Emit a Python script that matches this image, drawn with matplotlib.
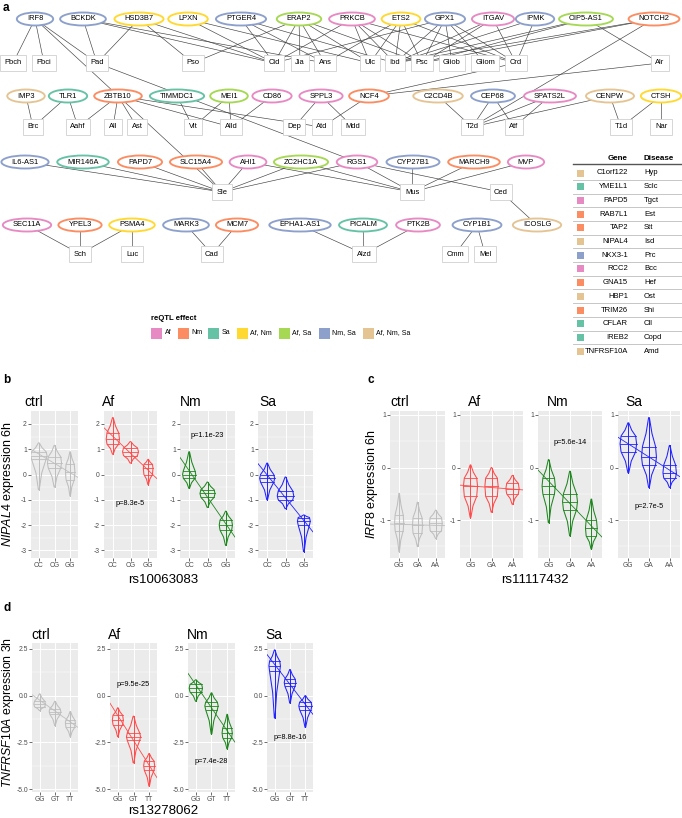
import matplotlib.pyplot as plt
from matplotlib.patches import Ellipse, Rectangle, Polygon

plt.rcParams['font.family'] = ['Liberation Sans', 'DejaVu Sans']
plt.rcParams['axes.unicode_minus'] = False
plt.rcParams['mathtext.fontset'] = 'custom'
plt.rcParams['mathtext.it'] = 'Liberation Sans:italic'
plt.rcParams['mathtext.rm'] = 'Liberation Sans'

W, H = 682, 818

# ---------------- data: network ----------------
effect_names = ['Af', 'Nm', 'Sa', 'Af, Nm', 'Af, Sa', 'Nm, Sa', 'Af, Nm, Sa']
effect_colors = ['#E78AC3', '#FC8D62', '#66C2A5', '#FFD92F', '#A6D854', '#8DA0CB', '#E5C494']

genes_row1 = ['IRF8', 'BCKDK', 'HSD3B7', 'LPXN', 'PTGER4', 'ERAP2', 'PRKCB', 'ETS2', 'GPX1',
              'ITGAV', 'IPMK', 'OIP5-AS1', 'NOTCH2']
effects_row1 = ['Nm, Sa', 'Nm, Sa', 'Af, Nm', 'Af, Nm', 'Nm, Sa', 'Af, Sa', 'Af', 'Af, Nm', 'Nm, Sa',
                'Af', 'Nm, Sa', 'Af, Sa', 'Nm']
genes_row2 = ['IMP3', 'TLR1', 'ZBTB10', 'TIMMDC1', 'MEI1', 'CD86', 'SPPL3', 'NCF4', 'C2CD4B',
              'CEP68', 'SPATS2L', 'CENPW', 'CTSH']
effects_row2 = ['Af, Nm, Sa', 'Sa', 'Nm', 'Sa', 'Af, Sa', 'Af', 'Af', 'Nm', 'Af, Nm, Sa',
                'Nm, Sa', 'Af', 'Af, Nm, Sa', 'Af, Nm']
genes_row3 = ['IL6-AS1', 'MIR146A', 'PAPD7', 'SLC15A4', 'AHI1', 'ZC2HC1A', 'RGS1', 'CYP27B1',
              'MARCH9', 'MVP']
effects_row3 = ['Nm, Sa', 'Sa', 'Nm', 'Nm', 'Af', 'Af, Sa', 'Af', 'Nm, Sa', 'Nm', 'Af']
genes_row4 = ['SEC11A', 'YPEL3', 'PSMA4', 'MARK3', 'MCM7', 'EPHA1-AS1', 'PICALM', 'PTK2B',
              'CYP1B1', 'ICOSLG']
effects_row4 = ['Af', 'Nm', 'Af, Nm', 'Nm, Sa', 'Nm', 'Nm, Sa', 'Sa', 'Af', 'Nm, Sa', 'Af, Nm, Sa']

dis_row1 = ['Pbch', 'Pbci', 'Pad', 'Pso', 'Cid', 'Jia', 'Ans', 'Ulc', 'Ibd', 'Psc', 'Gliob',
            'Gliom', 'Crd', 'Alr']
dis_row2 = ['Brc', 'Aahf', 'All', 'Ast', 'Vit', 'Alld', 'Dep', 'Atd', 'Mdd', 'T2d', 'Atf', 'T1d', 'Nar']
dis_row3 = ['Sle', 'Mus', 'Ced']
dis_row4 = ['Sch', 'Luc', 'Cad', 'Alzd', 'Cmm', 'Mel']

links = {
    'IRF8': ['Pbch', 'Pbci', 'Pad', 'Sle'],
    'BCKDK': ['Pad', 'Cid', 'Ans'],
    'HSD3B7': ['Pad', 'Pso', 'Cid'],
    'LPXN': ['Cid', 'Ulc'],
    'PTGER4': ['Cid', 'Ibd', 'Ans'],
    'ERAP2': ['Pso', 'Cid', 'Jia', 'Ans', 'Ulc', 'Psc'],
    'PRKCB': ['Cid', 'Ulc', 'Ibd', 'Psc', 'Crd'],
    'ETS2': ['Ans', 'Ulc', 'Ibd', 'Psc', 'Crd'],
    'GPX1': ['Cid', 'Ibd', 'Psc', 'Gliob', 'Gliom', 'Crd'],
    'ITGAV': ['Ibd', 'Psc', 'Crd'],
    'IPMK': ['Ibd', 'Crd'],
    'OIP5-AS1': ['Ibd', 'Psc', 'Alr'],
    'NOTCH2': ['Ibd', 'Psc', 'T2d'],
    'IMP3': ['Brc'],
    'TLR1': ['Brc', 'Aahf'],
    'ZBTB10': ['Aahf', 'All', 'Ast', 'Alld', 'Atd'],
    'TIMMDC1': ['Vit'],
    'MEI1': ['Vit', 'Alld'],
    'CD86': ['Alld'],
    'SPPL3': ['Dep', 'Mdd'],
    'NCF4': ['Atd', 'Crd', 'Alr'],
    'C2CD4B': ['T2d'],
    'CEP68': ['T2d', 'Atf'],
    'SPATS2L': ['T2d', 'Atf'],
    'CENPW': ['T2d', 'T1d'],
    'CTSH': ['T1d', 'Nar'],
    'IL6-AS1': ['Sle'],
    'MIR146A': ['Sle'],
    'PAPD7': ['Sle'],
    'SLC15A4': ['Sle'],
    'AHI1': ['Sle', 'Mus'],
    'ZC2HC1A': ['Sle', 'Mus'],
    'RGS1': ['Pad', 'Sle', 'Mus', 'Ced'],
    'CYP27B1': ['Mus'],
    'MARCH9': ['Mus'],
    'MVP': ['Mus'],
    'SEC11A': ['Sch'],
    'YPEL3': ['Sch'],
    'PSMA4': ['Sch', 'Luc'],
    'MARK3': ['Cad'],
    'MCM7': ['Cad'],
    'EPHA1-AS1': ['Alzd'],
    'PICALM': ['Alzd'],
    'PTK2B': ['Alzd'],
    'CYP1B1': ['Cmm', 'Mel'],
    'ICOSLG': ['Ced'],
}

table_genes = ['C1orf122', 'YME1L1', 'PAPD5', 'RAB7L1', 'TAP2', 'NIPAL4', 'NKX3-1', 'RCC2',
               'GNA15', 'HBP1', 'TRIM26', 'CFLAR', 'IREB2', 'TNFRSF10A']
table_dis = ['Hyp', 'Sclc', 'Tgct', 'Est', 'Stt', 'Isd', 'Prc', 'Bcc', 'Hef', 'Ost', 'Shi',
             'Cll', 'Copd', 'Amd']
table_eff = ['Af, Nm, Sa', 'Sa', 'Af', 'Nm', 'Nm', 'Af, Nm, Sa', 'Nm, Sa', 'Af', 'Nm',
             'Af, Nm, Sa', 'Nm', 'Sa', 'Sa', 'Af, Nm, Sa']

# ---------------- data: violins (lo, q1, median, q3, hi) ----------------
conditions = ['ctrl', 'Af', 'Nm', 'Sa']
cond_colors = ['#BEBEBE', '#FF4A4A', '#1E861E', '#2222FF']

nipal4_geno = ['CC', 'CG', 'GG']
nipal4_stats = {
    'ctrl': [[-0.6, 0.6, 0.75, 0.9, 1.25], [-0.5, 0.25, 0.45, 0.7, 1.15], [-0.85, -0.2, 0.1, 0.4, 0.9]],
    'Af': [[0.8, 1.2, 1.4, 1.65, 2.25], [0.45, 0.75, 0.9, 1.05, 1.3], [-0.4, 0.0, 0.25, 0.4, 0.6]],
    'Nm': [[-0.55, -0.15, 0.0, 0.15, 0.9], [-1.3, -0.9, -0.75, -0.6, -0.3], [-2.8, -2.2, -2.0, -1.8, -1.45]],
    'Sa': [[-1.0, -0.3, -0.15, 0.0, 0.45], [-1.35, -1.0, -0.85, -0.65, -0.1], [-3.05, -2.0, -1.85, -1.7, -1.6]],
}
nipal4_width = {'ctrl': [1.05, 0.9, 0.6], 'Af': [0.75, 0.9, 0.55], 'Nm': [0.72, 0.82, 0.72],
                'Sa': [0.82, 0.9, 0.7]}
nipal4_fit = {'ctrl': [0.81, 0.07], 'Af': [1.51, 0.17], 'Nm': [0.15, -1.95], 'Sa': [-0.02, -1.82]}
nipal4_p = {'Af': ('p=8.3e-5', -1.14), 'Nm': ('p=1.1e-23', 1.53)}

irf8_geno = ['GG', 'GA', 'AA']
irf8_stats = {
    'ctrl': [[-1.6, -1.2, -1.05, -0.9, -0.49], [-1.5, -1.25, -1.1, -0.95, -0.66], [-1.35, -1.2, -1.05, -0.95, -0.81]],
    'Af': [[-0.95, -0.55, -0.35, -0.2, 0.05], [-0.85, -0.55, -0.35, -0.2, 0.0], [-0.7, -0.5, -0.4, -0.3, -0.15]],
    'Nm': [[-1.05, -0.5, -0.35, -0.2, 0.15], [-1.3, -0.8, -0.65, -0.5, -0.07], [-1.55, -1.3, -1.15, -1.0, -0.6]],
    'Sa': [[-0.1, 0.3, 0.45, 0.6, 0.85], [-0.38, 0.05, 0.2, 0.4, 0.95], [-0.38, -0.2, -0.1, 0.05, 0.42]],
}
irf8_width = {'ctrl': [0.5, 0.55, 0.7], 'Af': [0.67, 0.63, 0.63], 'Nm': [0.62, 0.7, 0.55],
              'Sa': [0.8, 0.72, 0.65]}
irf8_fit = {'ctrl': [-1.08, -1.1], 'Af': [-0.35, -0.41], 'Nm': [-0.26, -1.11], 'Sa': [0.45, -0.05]}
irf8_p = {'Nm': ('p=5.6e-14', 0.47), 'Sa': ('p=2.7e-5', -0.75)}

tnf_geno = ['GG', 'GT', 'TT']
tnf_stats = {
    'ctrl': [[-0.8, -0.6, -0.45, -0.3, 0.1], [-1.6, -1.0, -0.85, -0.7, -0.3], [-2.2, -1.7, -1.45, -1.3, -0.85]],
    'Af': [[-2.2, -1.55, -1.3, -1.05, -0.65], [-3.6, -2.4, -2.2, -2.0, -1.1], [-4.85, -4.0, -3.75, -3.5, -3.1]],
    'Nm': [[-0.3, 0.2, 0.4, 0.6, 0.85], [-2.05, -0.75, -0.55, -0.35, 0.15], [-2.85, -2.25, -2.0, -1.75, -1.0]],
    'Sa': [[-1.2, 1.3, 1.6, 1.85, 2.45], [-0.4, 0.5, 0.7, 0.9, 1.4], [-1.7, -0.75, -0.55, -0.35, 0.0]],
}
tnf_width = {'ctrl': [0.76, 0.76, 0.65], 'Af': [0.7, 0.9, 0.7], 'Nm': [0.85, 0.85, 0.65],
             'Sa': [0.75, 0.75, 0.85]}
tnf_fit = {'ctrl': [-0.24, -1.41], 'Af': [-1.07, -3.73], 'Nm': [0.58, -1.88], 'Sa': [1.67, -0.47]}
tnf_p = {'Af': ('p=9.5e-25', 0.59), 'Nm': ('p=7.4e-28', -3.5), 'Sa': ('p=8.8e-16', -2.25)}

# ---------------- layout (pixels) ----------------
gene_rows = [(genes_row1, effects_row1, [35, 83, 139, 188, 241, 299, 352, 401, 445, 493, 535, 586, 654], 19),
             (genes_row2, effects_row2, [26, 68, 118, 177, 229, 272, 321, 369, 438, 493, 550, 610, 661], 96),
             (genes_row3, effects_row3, [25, 83, 140, 196, 248, 301, 357, 413, 474, 526], 162),
             (genes_row4, effects_row4, [27, 80, 132, 186, 237, 300, 363, 418, 477, 537], 225)]
dis_rows = [(dis_row1, [13, 44, 97, 193, 274, 300, 325, 370, 395, 422, 452, 485, 516, 660], 63),
            (dis_row2, [33, 78, 113, 137, 193, 231, 294, 322, 353, 472, 514, 621, 661], 127),
            (dis_row3, [222, 412, 501], 192),
            (dis_row4, [80, 132, 212, 364, 455, 485], 254)]

fig = plt.figure(figsize=(W / 100, H / 100), dpi=100)
ov = fig.add_axes([0, 0, 1, 1])
ov.set_xlim(0, W)
ov.set_ylim(H, 0)
ov.axis('off')
renderer = fig.canvas.get_renderer()
col_of = dict(zip(effect_names, effect_colors))


def text_width(t):
    return t.get_window_extent(renderer).width


pos = {}
for names, effs, xs, y in gene_rows:
    for n, e, x in zip(names, effs, xs):
        t = ov.text(x, y, n, ha='center', va='center', fontsize=5.4, zorder=4)
        w = text_width(t) + 20
        ov.add_patch(Ellipse((x, y), w, 13, fc='white', ec=col_of[e], lw=1.35, zorder=3))
        pos[n] = (x, y)
for names, xs, y in dis_rows:
    for n, x in zip(names, xs):
        t = ov.text(x, y, n, ha='center', va='center', fontsize=5.4, zorder=4)
        w = text_width(t) + 9
        ov.add_patch(Rectangle((x - w / 2, y - 8), w, 16, fc='white', ec='#D0D0D0', lw=0.6, zorder=3))
        pos[n] = (x, y)

for g, ds in links.items():
    for d in ds:
        (x0, y0), (x1, y1) = pos[g], pos[d]
        ov.plot([x0, x1], [y0, y1], color='#404040', lw=0.45, zorder=1)

# legend
ov.text(151, 318, 'reQTL effect', fontsize=5.6, fontweight='bold', va='center')
for lx, name, c in zip([151, 178, 208, 237, 279, 319, 363], effect_names, effect_colors):
    ov.add_patch(Rectangle((lx, 327.5), 11, 11, fc=c, ec='none'))
    ov.text(lx + 13.5, 333, name, fontsize=5, va='center')

# table
ov.text(628, 158, 'Gene', fontsize=5.8, fontweight='bold', ha='right', va='center')
ov.text(644, 158, 'Disease', fontsize=5.8, fontweight='bold', ha='left', va='center')
ov.plot([573, 682], [164, 164], color='#555555', lw=1.0)
for i, (g, d, e) in enumerate(zip(table_genes, table_dis, table_eff)):
    y = 173 + i * 13.7
    ov.add_patch(Rectangle((576.5, y - 3.5), 7, 7, fc=col_of[e], ec='none'))
    ov.text(628, y, g, fontsize=5.5, ha='right', va='center')
    ov.text(644, y, d, fontsize=5.5, ha='left', va='center')
    if i < len(table_genes) - 1:
        ov.plot([573, 682], [y + 6.85, y + 6.85], color='#BDBDBD', lw=0.6)

# panel letters
for lx, ly, lab in [(3, 8, 'a'), (3, 380, 'b'), (368, 380, 'c'), (3, 608, 'd')]:
    ov.text(lx, ly, lab, fontsize=8.5, fontweight='bold', va='center')


# ---------------- violins ----------------
def px_axes(x0, y0, x1, y1):
    return fig.add_axes([x0 / W, 1 - y1 / H, (x1 - x0) / W, (y1 - y0) / H])


def draw_violin(ax, x, s, width, color):
    lo, q1, med, q3, hi = s
    half = width / 2
    ys = [lo, q1 - 0.45 * (q1 - lo), q1, med, q3, q3 + 0.45 * (hi - q3), hi]
    fs = [0.05, 0.35, 0.88, 1.0, 0.88, 0.4, 0.05]
    right = [(x + half * f, y) for f, y in zip(fs, ys)]
    left = [(x - half * f, y) for f, y in zip(fs[::-1], ys[::-1])]
    ax.add_patch(Polygon(right + left, closed=True, fill=False, ec=color, lw=0.75))
    for f, y in ((0.88, q1), (1.0, med), (0.88, q3)):
        ax.plot([x - half * f, x + half * f], [y, y], color=color, lw=0.6)
    ax.plot([x, x], [lo, hi], color=color, lw=0.7)


def violin_block(boxes, title_xy, stats, widths, fits, pvals, genos, ylim, yticks, yminor, fmt):
    for k, (cond, color, box) in enumerate(zip(conditions, cond_colors, boxes)):
        ax = px_axes(*box)
        ax.set_facecolor('#EBEBEB')
        for sp in ax.spines.values():
            sp.set_visible(False)
        ax.set_xlim(0.5, 3.5)
        ax.set_ylim(*ylim)
        ax.set_xticks([1, 2, 3])
        ax.set_xticklabels(genos)
        ax.set_yticks(yticks)
        ax.set_yticklabels([fmt.format(v) for v in yticks])
        ax.set_yticks(yminor, minor=True)
        ax.grid(True, which='major', color='white', lw=0.7)
        ax.grid(True, which='minor', axis='y', color='white', lw=0.35)
        ax.set_axisbelow(True)
        ax.tick_params(which='major', length=2, width=0.5, color='#333333', labelsize=4.9,
                       labelcolor='#4D4D4D', pad=1)
        ax.tick_params(which='minor', length=0)
        for i, (s, w) in enumerate(zip(stats[cond], widths[cond])):
            draw_violin(ax, i + 1, s, w, color)
        f = fits[cond]
        ax.axline((1, f[0]), (3, f[1]), color=color, lw=0.6)
        if cond in pvals:
            ax.text(2, pvals[cond][1], pvals[cond][0], ha='center', va='center', fontsize=5.3)
        ov.text(title_xy[k][0], title_xy[k][1], cond, fontsize=10, va='center')


violin_block([(31, 411, 78, 558), (104, 411, 157, 558), (180, 411, 235, 558), (258, 411, 313, 558)],
             [(24, 402), (102, 402), (180, 402), (259, 402)],
             nipal4_stats, nipal4_width, nipal4_fit, nipal4_p, nipal4_geno,
             (-3.3, 2.51), [-3, -2, -1, 0, 1, 2], [-2.5, -1.5, -0.5, 0.5, 1.5], '{:g}')
violin_block([(390, 411, 445, 558), (460, 411, 523, 558), (538, 411, 602, 558), (618, 411, 680, 558)],
             [(390, 402), (468, 402), (547, 402), (625, 402)],
             irf8_stats, irf8_width, irf8_fit, irf8_p, irf8_geno,
             (-1.72, 1.075), [-1, 0, 1], [-1.5, -0.5, 0.5], '{:g}')
violin_block([(32, 643, 78, 792), (110, 643, 157, 792), (188, 643, 235, 792), (267, 643, 313, 792)],
             [(31, 635), (108, 635), (187, 635), (265, 635)],
             tnf_stats, tnf_width, tnf_fit, tnf_p, tnf_geno,
             (-5.16, 2.82), [-5, -2.5, 0, 2.5], [-3.75, -1.25, 1.25], '{:.1f}')

ov.text(163, 580, 'rs10063083', fontsize=9.5, ha='center', va='center')
ov.text(535, 580, 'rs11117432', fontsize=9.5, ha='center', va='center')
ov.text(163, 811, 'rs13278062', fontsize=9.5, ha='center', va='center')
ov.text(8, 484, r'$\mathit{NIPAL4}$ expression 6h', fontsize=9, rotation=90, ha='center', va='center')
ov.text(372, 484, r'$\mathit{IRF8}$ expression 6h', fontsize=9, rotation=90, ha='center', va='center')
ov.text(8, 712, r'$\mathit{TNFRSF10A}$ expression 3h', fontsize=8.8, rotation=90, ha='center', va='center')

fig.savefig('out.png', dpi=100)
